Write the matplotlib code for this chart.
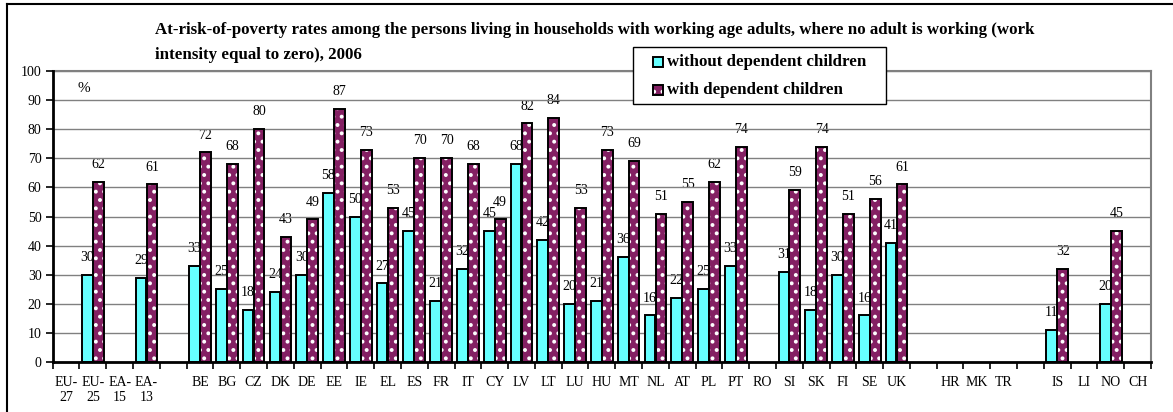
import numpy as np
import matplotlib
matplotlib.use("Agg")
import matplotlib.pyplot as plt
from matplotlib.patches import Rectangle
from matplotlib.lines import Line2D

plt.rcParams['font.family'] = ['Liberation Serif', 'DejaVu Serif']
plt.rcParams['hatch.linewidth'] = 1.6

# Countries / aggregates ("" marks an empty spacer slot on the axis)
categories = ["EU-\n27", "EU-\n25", "EA-\n15", "EA-\n13", "",
              "BE", "BG", "CZ", "DK", "DE", "EE", "IE", "EL", "ES", "FR",
              "IT", "CY", "LV", "LT", "LU", "HU", "MT", "NL", "AT", "PL",
              "PT", "RO", "SI", "SK", "FI", "SE", "UK", "",
              "HR", "MK", "TR", "", "IS", "LI", "NO", "CH"]

# At-risk-of-poverty rate (%), None = not available
without_children = [None, 30, None, 29, None,
                    33, 25, 18, 24, 30, 58, 50, 27, 45, 21,
                    32, 45, 68, 42, 20, 21, 36, 16, 22, 25,
                    33, None, 31, 18, 30, 16, 41, None,
                    None, None, None, None, 11, None, 20, None]
with_children = [None, 62, None, 61, None,
                 72, 68, 80, 43, 49, 87, 73, 53, 70, 70,
                 68, 49, 82, 84, 53, 73, 69, 51, 55, 62,
                 74, None, 59, 74, 51, 56, 61, None,
                 None, None, None, None, 32, None, 45, None]

series_names = ["without dependent children", "with dependent children"]
cyan = "#66FFFF"
plum = "#842063"

W, H = 1173, 412
fig = plt.figure(figsize=(W / 100, H / 100), dpi=100)
ax = fig.add_axes([52.7 / W, 1 - 362 / H, (1151 - 52.7) / W, (362 - 71) / H])

n = len(categories)
x = np.arange(n)
bw = 0.40
off = 0.205


def draw_series(values, dx, face, hatched):
    idx = [i for i, v in enumerate(values) if v is not None]
    vals = [values[i] for i in idx]
    pos = x[idx] + dx
    if hatched:
        ax.bar(pos, vals, bw, facecolor=face, edgecolor="white",
               hatch="..", linewidth=0, zorder=3)
        ax.bar(pos, vals, bw, facecolor="none", edgecolor="black",
               linewidth=1.4, zorder=4)
    else:
        ax.bar(pos, vals, bw, facecolor=face, edgecolor="black",
               linewidth=1.4, zorder=3)
    for p, v in zip(pos, vals):
        ax.annotate(f"{v}", (p, v), xytext=(0, 12.5), textcoords="offset points",
                    ha="center", va="center", fontsize=10, zorder=1)


draw_series(without_children, -off, cyan, False)
draw_series(with_children, off, plum, True)

ax.set_xlim(-0.5, n - 0.5)
ax.set_ylim(0, 100)
ax.set_yticks(np.arange(0, 101, 10))
ax.yaxis.grid(True, color="#808080", linewidth=1.0)
ax.set_axisbelow(False)
for gl in ax.get_ygridlines():
    gl.set_zorder(2)

ax.set_xticks(x)
ax.set_xticklabels(categories, fontsize=10, linespacing=1.25, va="top")
ax.set_xticks(np.arange(-0.5, n, 1), minor=True)
ax.tick_params(axis="x", which="major", length=0, pad=10)
ax.tick_params(axis="x", which="minor", length=5, width=1.2, direction="out")
ax.tick_params(axis="y", length=5, width=1.2, direction="out", pad=3,
               labelsize=10)

for s in ("top", "right"):
    ax.spines[s].set_color("#808080")
    ax.spines[s].set_linewidth(1.5)
for s in ("left", "bottom"):
    ax.spines[s].set_color("black")
    ax.spines[s].set_linewidth(2)
    ax.spines[s].set_zorder(5)

ax.text(77 / W, 1 - 88 / H, "%", transform=fig.transFigure, fontsize=11,
        va="center", ha="left")

fig.text(155 / W, 1 - 30 / H,
         "At-risk-of-poverty rates among the persons living in households with "
         "working age adults, where no adult is working (work",
         fontsize=12.2, fontweight="bold", ha="left", va="center")
fig.text(155 / W, 1 - 55 / H, "intensity equal to zero), 2006",
         fontsize=12.2, fontweight="bold", ha="left", va="center")

# Legend box
lx0, ly0, lx1, ly1 = 633, 47, 886, 104
fig.patches.append(Rectangle((lx0 / W, 1 - ly1 / H), (lx1 - lx0) / W,
                             (ly1 - ly0) / H, transform=fig.transFigure,
                             facecolor="white", edgecolor="black",
                             linewidth=1.0, zorder=10))
rows = [(62, cyan, False), (90, plum, True)]
for (cy_, col, hat), name in zip(rows, series_names):
    sq = 10
    corner = (653 / W, 1 - (cy_ + sq / 2) / H)
    if hat:
        fig.patches.append(Rectangle(corner, sq / W, sq / H,
                                     transform=fig.transFigure,
                                     facecolor=col, edgecolor="white",
                                     hatch="..", linewidth=0, zorder=11))
        fig.patches.append(Rectangle(corner, sq / W, sq / H,
                                     transform=fig.transFigure,
                                     facecolor="none", edgecolor="black",
                                     linewidth=1.4, zorder=12))
    else:
        fig.patches.append(Rectangle(corner, sq / W, sq / H,
                                     transform=fig.transFigure,
                                     facecolor=col, edgecolor="black",
                                     linewidth=1.4, zorder=11))
    fig.text(667 / W, 1 - cy_ / H, name, fontsize=12.2, fontweight="bold",
             ha="left", va="center", zorder=12)

# Outer chart frame (top and left edges)
fig.add_artist(Line2D([7 / W, 1.0], [1 - 4 / H, 1 - 4 / H],
                      transform=fig.transFigure, color="black", linewidth=1.5))
fig.add_artist(Line2D([7 / W, 7 / W], [0.0, 1 - 4 / H],
                      transform=fig.transFigure, color="black", linewidth=1.5))

fig.savefig("out.png", dpi=100)
